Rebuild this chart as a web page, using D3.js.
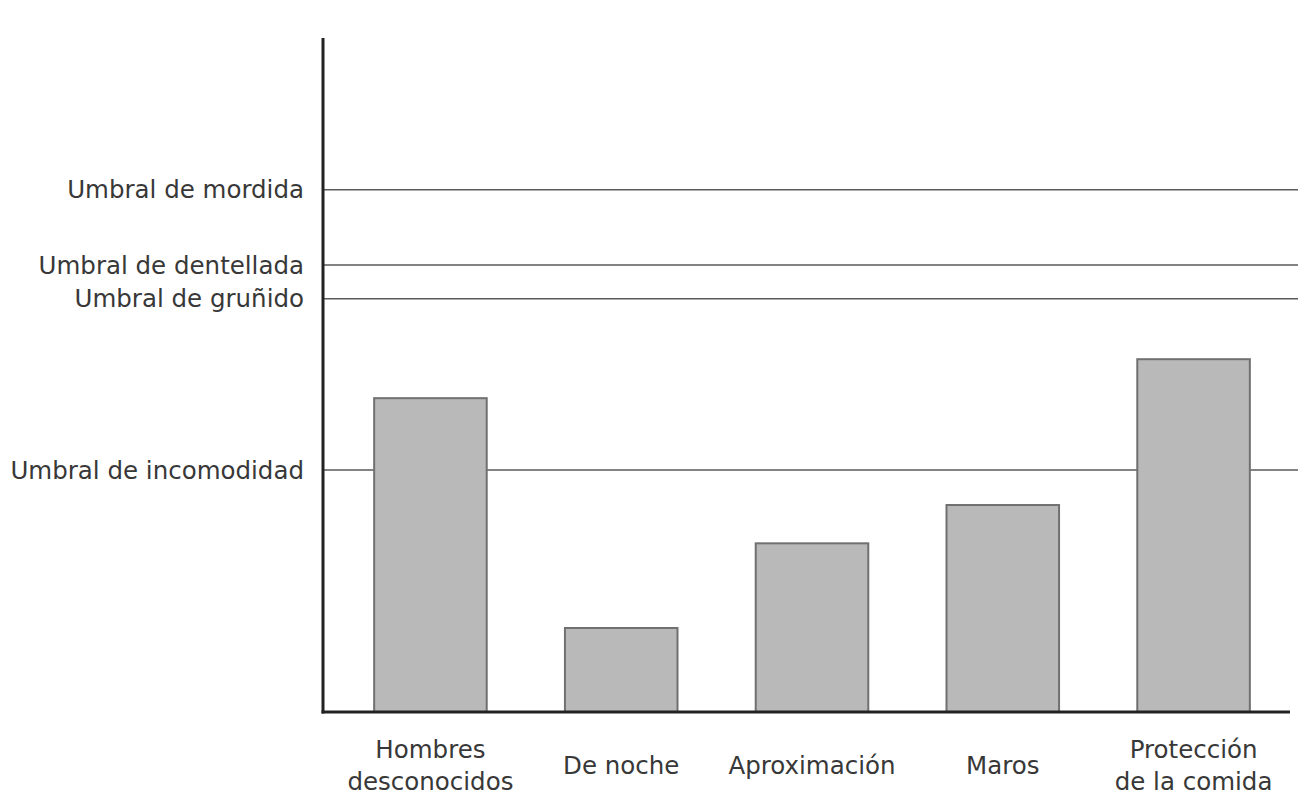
<!DOCTYPE html>
<html>
<head>
<meta charset="utf-8">
<script src="https://cdn.jsdelivr.net/npm/d3@7"></script>
<style>
    body { margin: 0; background: #fff; }
    text { font-family: "DejaVu Sans", Verdana, sans-serif; fill: #383838; }
</style>
</head>
<body>
<div class="graph"></div>
<script>
// categories (two lines where the label wraps)
var categories = [
    ["Hombres", "desconocidos"],
    ["De noche"],
    ["Aproximación"],
    ["Maros"],
    ["Protección", "de la comida"]
];
var values = [46.7, 12.5, 25.1, 30.8, 52.5];

var thresholdLabels = ["Umbral de mordida", "Umbral de dentellada", "Umbral de gruñido", "Umbral de incomodidad"];
var thresholdValues = [77.7, 66.5, 61.5, 36.0];

(function() {
    var widthBase = 1298;
    var heightBase = 798;
    var axisX = 323;
    var axisY = 712;

    var x = d3.scaleBand()
        .domain(d3.range(categories.length))
        .range([336, 1288])
        .paddingInner(0.41)
        .paddingOuter(0.2);

    var y = d3.scaleLinear()
        .domain([0, 100])
        .range([axisY, 40]);

    var svg = d3.select(".graph")
        .append("svg")
            .attr("width", widthBase)
            .attr("height", heightBase);

    // threshold lines
    svg.selectAll(".threshold")
        .data(thresholdValues)
        .enter().append("line")
            .attr("class", "threshold")
            .attr("x1", axisX)
            .attr("x2", widthBase)
            .attr("y1", function(d) { return y(d); })
            .attr("y2", function(d) { return y(d); })
            .attr("stroke", "#5a5a5a")
            .attr("stroke-width", 1.5);

    svg.selectAll(".threshold-label")
        .data(thresholdLabels)
        .enter().append("text")
            .attr("class", "threshold-label")
            .attr("x", 304)
            .attr("y", function(d, i) { return y(thresholdValues[i]); })
            .attr("dy", "0.35em")
            .style("text-anchor", "end")
            .style("font-size", "24.5px")
            .text(function(d) { return d; });

    // bars
    svg.selectAll(".bar")
        .data(values)
        .enter().append("rect")
            .attr("class", "bar")
            .attr("x", function(d, i) { return x(i); })
            .attr("width", x.bandwidth())
            .attr("y", function(d) { return y(d); })
            .attr("height", function(d) { return axisY - y(d); })
            .attr("fill", "#b9b9b9")
            .attr("stroke", "#707070")
            .attr("stroke-width", 2);

    // axes
    svg.append("line")
        .attr("x1", axisX).attr("x2", axisX)
        .attr("y1", 38).attr("y2", axisY + 1.5)
        .attr("stroke", "#222")
        .attr("stroke-width", 3);

    svg.append("line")
        .attr("x1", axisX - 1.5).attr("x2", 1290)
        .attr("y1", axisY).attr("y2", axisY)
        .attr("stroke", "#222")
        .attr("stroke-width", 3);

    // category labels
    var labels = svg.selectAll(".cat-label")
        .data(categories)
        .enter().append("text")
            .attr("class", "cat-label")
            .style("text-anchor", "middle")
            .style("font-size", "24.5px")
            .attr("transform", function(d, i) {
                return "translate(" + (x(i) + x.bandwidth() / 2) + ",0)";
            });

    labels.selectAll("tspan")
        .data(function(d) { return d; })
        .enter().append("tspan")
            .attr("x", 0)
            .attr("y", function(d, j, nodes) {
                var n = nodes.length;
                return 765 + (j - (n - 1) / 2) * 32;
            })
            .attr("dy", "0.35em")
            .text(function(d) { return d; });
})();
</script>
</body>
</html>
